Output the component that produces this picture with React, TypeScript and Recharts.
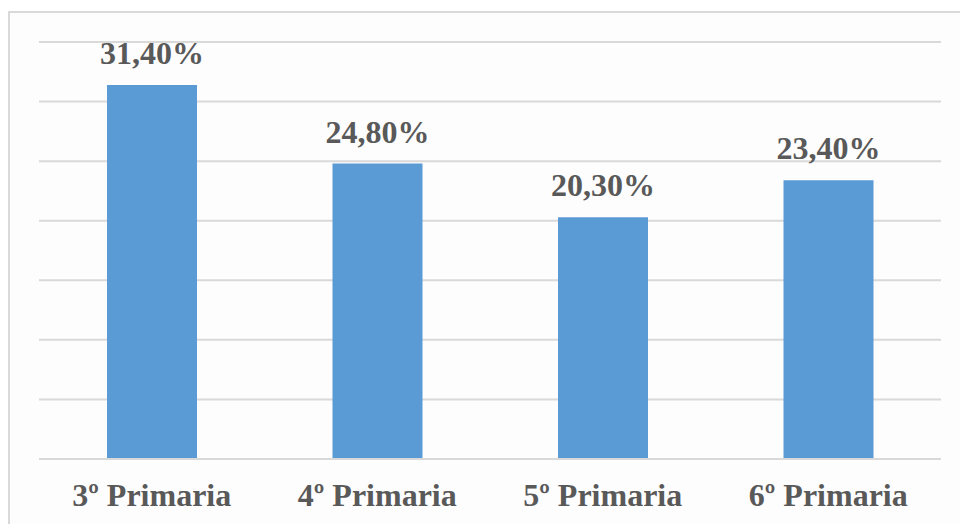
import React from 'react';
import { BarChart, Bar, XAxis, YAxis, CartesianGrid, LabelList } from 'recharts';

const categories = ['3º Primaria', '4º Primaria', '5º Primaria', '6º Primaria'];
const percentages = [31.4, 24.8, 20.3, 23.4];
const yTicks = [0, 5, 10, 15, 20, 25, 30, 35];

const data = categories.map((name, i) => ({ name, value: percentages[i] }));

const fmt = (v: number) => v.toFixed(2).replace('.', ',') + '%';

const FONT = 'Liberation Serif';
const TEXT = '#595959';
const GRID = '#d9d9d9';

export default function App() {
  return (
    <div
      style={{
        position: 'absolute',
        left: 0,
        top: 0,
        width: 960,
        height: 524,
        overflow: 'hidden',
        background: '#ffffff',
      }}
    >
      <div
        style={{
          position: 'absolute',
          left: 8,
          top: 11,
          width: 980,
          height: 540,
          border: `2px solid ${GRID}`,
          boxSizing: 'border-box',
          background: '#fdfdfd',
        }}
      />
      <div style={{ position: 'absolute', left: 0, top: 0 }}>
        <BarChart
          width={960}
          height={524}
          data={data}
          margin={{ top: 42, right: 19, bottom: 0, left: 39 }}
        >
          <CartesianGrid vertical={false} stroke={GRID} strokeWidth={2} />
          <YAxis hide domain={[0, 35]} ticks={yTicks} />
          <XAxis
            dataKey="name"
            height={65}
            axisLine={{ stroke: GRID, strokeWidth: 2 }}
            tickLine={false}
            tickSize={0}
            tickMargin={24}
            tick={{ fill: TEXT, fontFamily: FONT, fontWeight: 700, fontSize: 32 }}
          />
          <Bar dataKey="value" fill="#5b9bd5" barSize={90} isAnimationActive={false}>
            <LabelList
              dataKey="value"
              position="top"
              offset={21}
              formatter={(v: number) => fmt(v)}
              fill={TEXT}
              fontFamily={FONT}
              fontWeight={700}
              fontSize={32}
            />
          </Bar>
        </BarChart>
      </div>
    </div>
  );
}
